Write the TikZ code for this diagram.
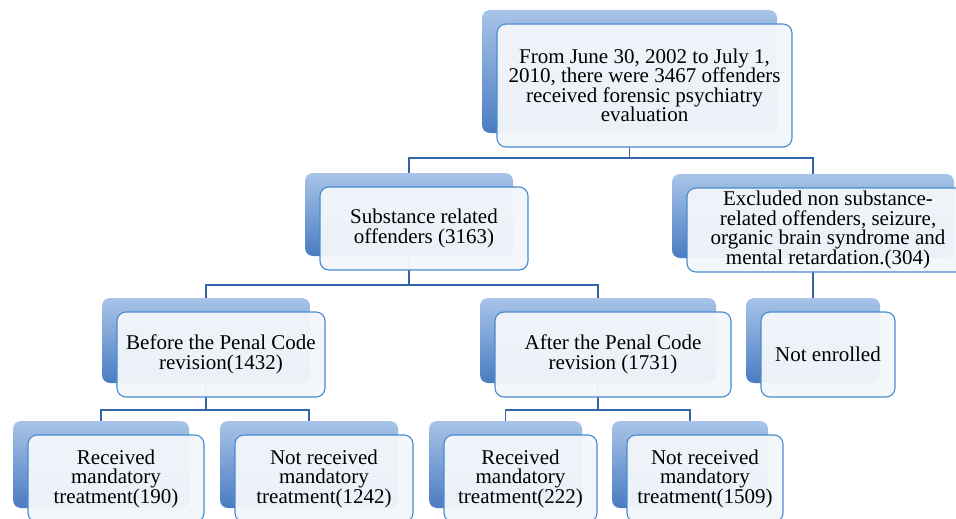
\documentclass[tikz,border=0pt]{standalone}
\usepackage{fontspec}
\setmainfont{Liberation Serif}
\usetikzlibrary{positioning}

\definecolor{shadetop}{RGB}{168,196,232}
\definecolor{shadebot}{RGB}{74,124,194}
\definecolor{boxfill}{RGB}{243,246,251}
\definecolor{boxline}{RGB}{72,140,206}
\definecolor{linkcol}{RGB}{50,100,170}

\begin{document}
\begin{tikzpicture}[
    x=1pt, y=-1pt,
    back/.style={rounded corners=8pt, top color=shadetop, bottom color=shadebot, inner sep=0pt},
    front/.style={rounded corners=9pt, draw=boxline, line width=1.1pt, fill=boxfill, fill opacity=0.96, text opacity=1,
        align=center, inner sep=0pt, font=\fontsize{21}{19.5}\selectfont},
    link/.style={draw=linkcol, line width=1.1pt}
]
    \useasboundingbox[fill=white] (0,0) rectangle (956,519);

    % back tabs
    \node[back, minimum width=295, minimum height=123] (top) at (629.5,71.5) {};
    \node[back, minimum width=208, minimum height=83] (subs) at (409,214.5) {};
    \node[back, minimum width=282, minimum height=84] (excl) at (813,216) {};
    \node[back, minimum width=208, minimum height=85] (before) at (206,340.5) {};
    \node[back, minimum width=236, minimum height=85] (after) at (598,340.5) {};
    \node[back, minimum width=134, minimum height=85] (notenr) at (813,340.5) {};
    \node[back, minimum width=176, minimum height=87] (recA) at (101,464.5) {};
    \node[back, minimum width=178, minimum height=87] (notA) at (309,464.5) {};
    \node[back, minimum width=153, minimum height=87] (recB) at (505.5,464.5) {};
    \node[back, minimum width=156, minimum height=87] (notB) at (690,464.5) {};

    % connectors
    \coordinate (j1) at (629.5,158);
    \coordinate (j2) at (409,285);
    \coordinate (j3) at (206,410);
    \coordinate (j4) at (598,410);
    \draw[link] (top.south) -- (j1);
    \draw[link] (subs.north) |- (j1) -| (excl.north);
    \draw[link] (subs.south) -- (j2);
    \draw[link] (before.north) |- (j2) -| (after.north);
    \draw[link] (excl.south) -- (notenr.north);
    \draw[link] (before.south) -- (j3);
    \draw[link] (recA.north) |- (j3) -| (notA.north);
    \draw[link] (after.south) -- (j4);
    \draw[link] (recB.north) |- (j4) -| (notB.north);

    % front boxes
    \node[front, minimum width=295, minimum height=123] (topf) at ([shift={(15,14)}]top.center)
        {From June 30, 2002 to July 1,\\ 2010, there were 3467 offenders\\ received forensic psychiatry\\ evaluation};
    \node[front, minimum width=208, minimum height=83] (subsf) at ([shift={(15,14)}]subs.center)
        {Substance related\\ offenders (3163)};
    \node[front, minimum width=282, minimum height=84] (exclf) at ([shift={(15,14)}]excl.center)
        {Excluded non substance-\\ related offenders, seizure,\\ organic brain syndrome and\\ mental retardation.(304)};
    \node[front, minimum width=208, minimum height=85] (beforef) at ([shift={(15,14)}]before.center)
        {Before the Penal Code\\ revision(1432)};
    \node[front, minimum width=236, minimum height=85] (afterf) at ([shift={(15,14)}]after.center)
        {After the Penal Code\\ revision (1731)};
    \node[front, minimum width=134, minimum height=85] (notenrf) at ([shift={(15,14)}]notenr.center)
        {Not enrolled};
    \node[front, minimum width=176, minimum height=87] (recAf) at ([shift={(15,14)}]recA.center)
        {Received\\ mandatory\\ treatment(190)};
    \node[front, minimum width=178, minimum height=87] (notAf) at ([shift={(15,14)}]notA.center)
        {Not received\\ mandatory\\ treatment(1242)};
    \node[front, minimum width=153, minimum height=87] (recBf) at ([shift={(15,14)}]recB.center)
        {Received\\ mandatory\\ treatment(222)};
    \node[front, minimum width=156, minimum height=87] (notBf) at ([shift={(15,14)}]notB.center)
        {Not received\\ mandatory\\ treatment(1509)};
\end{tikzpicture}
\end{document}
